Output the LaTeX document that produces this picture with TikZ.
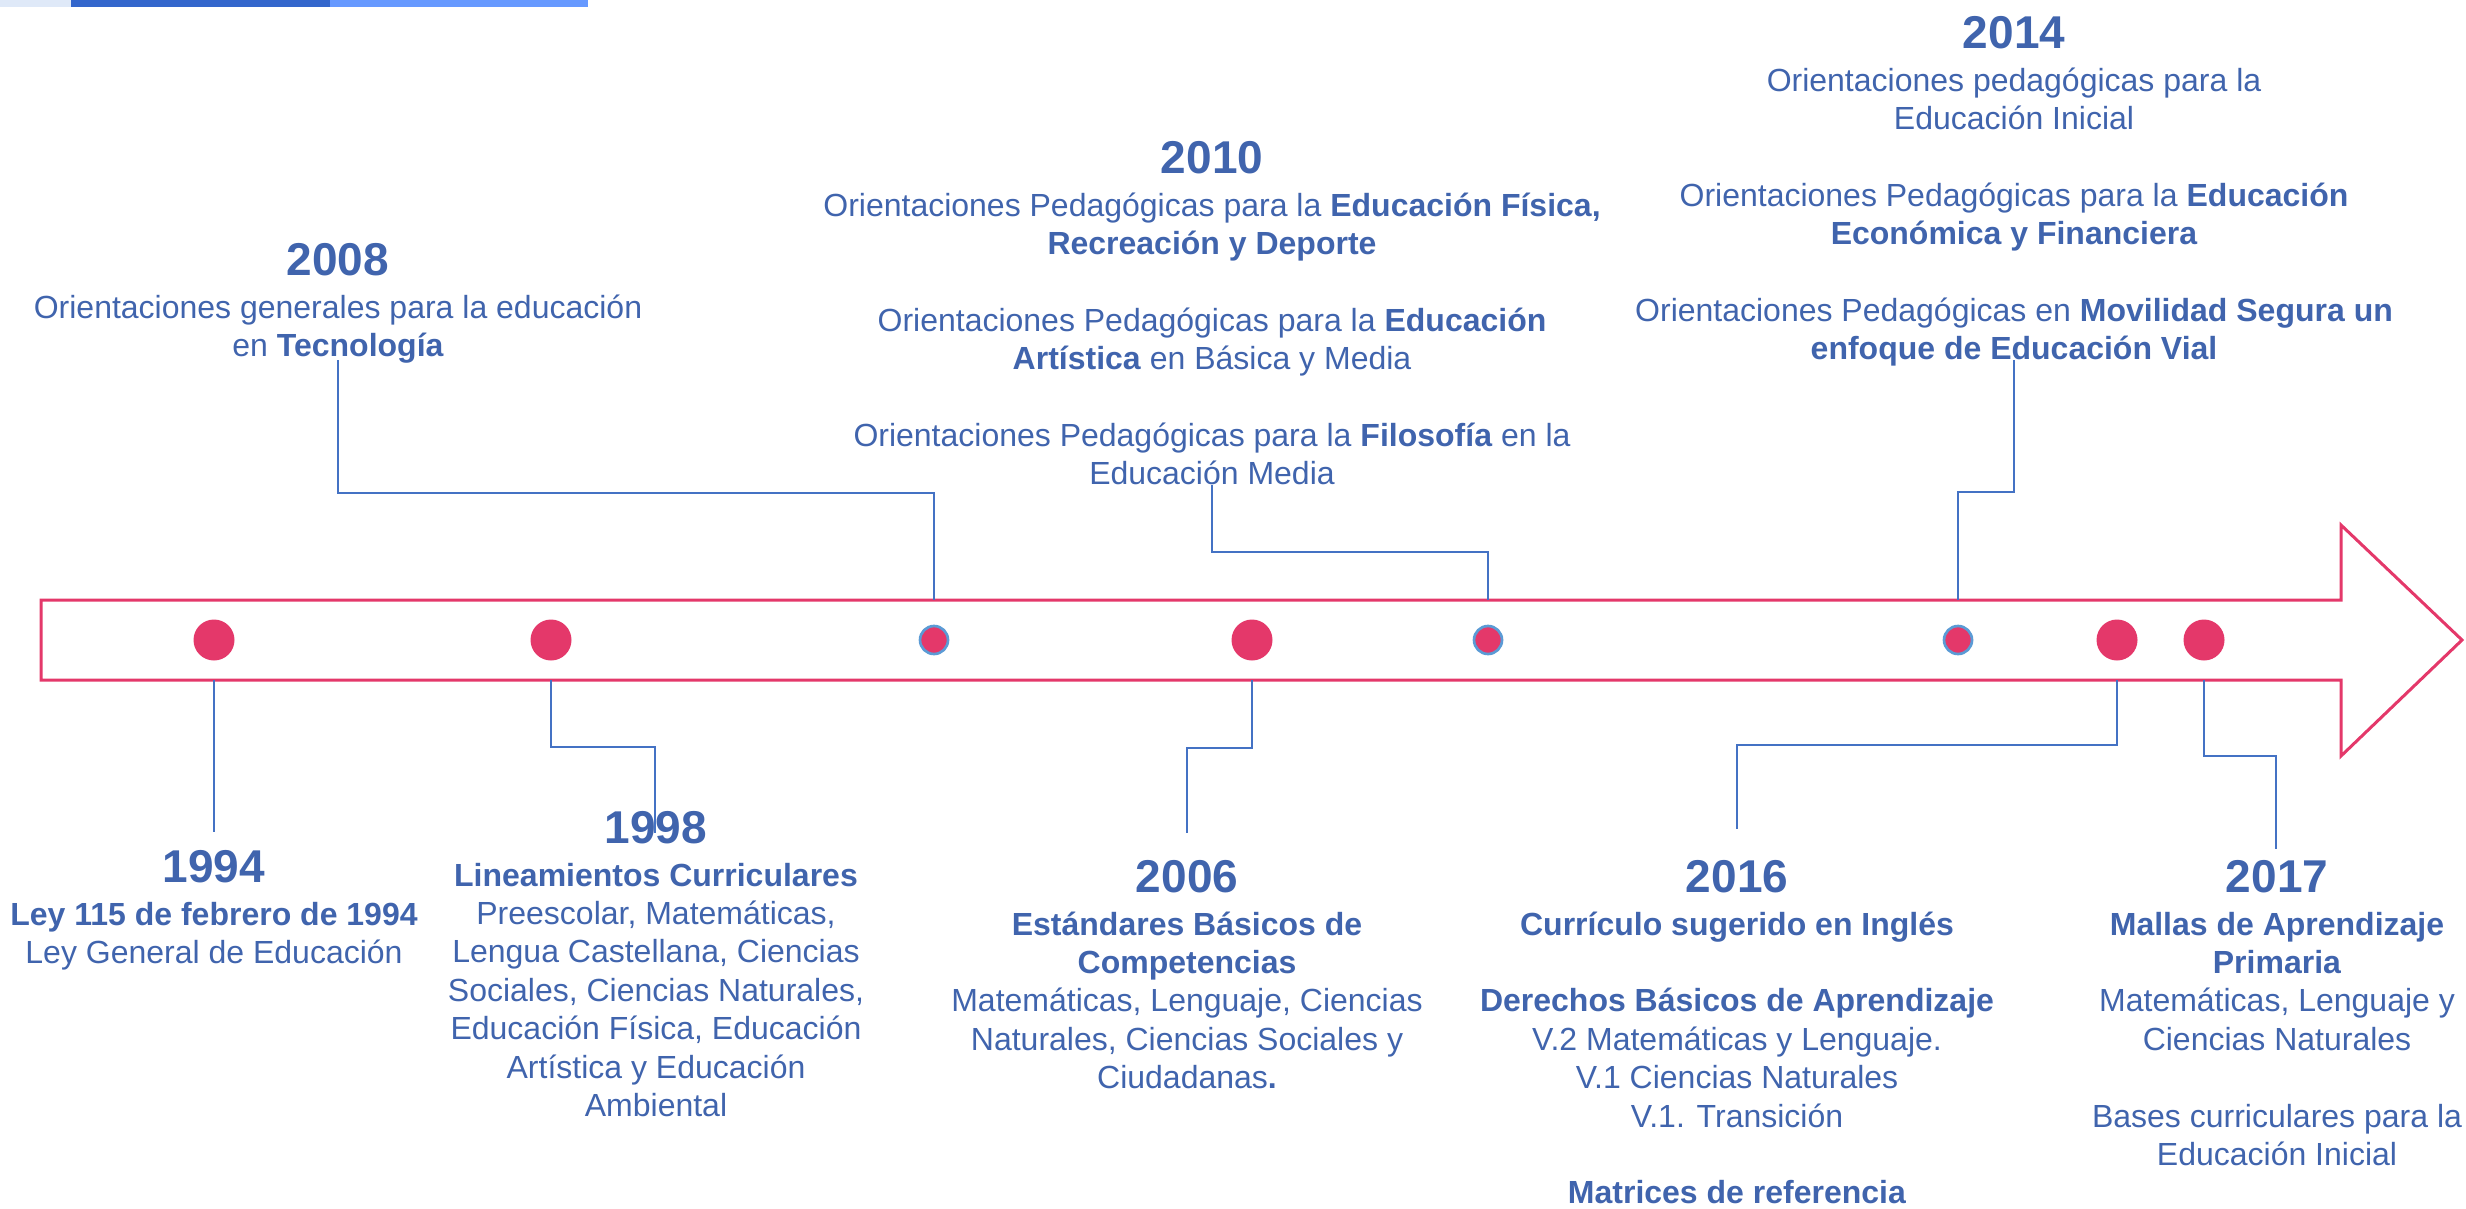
\documentclass[tikz,border=0pt]{standalone}
\usepackage{fontspec}
\setmainfont{Liberation Sans}
\usetikzlibrary{positioning}
\definecolor{tlred}{HTML}{E4386A}
\definecolor{tlblue}{HTML}{4472C4}
\definecolor{tltext}{HTML}{4064AD}
\definecolor{dotring}{HTML}{5B9BD5}
\definecolor{barpale}{HTML}{DFE9F8}
\definecolor{bardark}{HTML}{3366CC}
\definecolor{barlight}{HTML}{6699FF}
\newcommand\lnstrut{\rule{0pt}{9.5pt}}

\begin{document}
\begin{tikzpicture}[x=0.3pt, y=-0.3pt,
    year/.style={font=\fontsize{13.8}{16}\selectfont\bfseries, text=tltext, inner sep=0pt, anchor=base},
    desc/.style={font=\fontsize{9.6}{11.52}\selectfont, text=tltext, align=center, inner sep=0pt},
    bigdot/.style={circle, fill=tlred, inner sep=0pt, minimum size=12.3pt},
    smalldot/.style={circle, fill=tlred, draw=dotring, line width=0.8pt, inner sep=0pt, minimum size=8.4pt},
    conn/.style={draw=tlblue, line width=0.5pt}]
  \useasboundingbox (0,0) rectangle (2466,1208);
  \fill [barpale] (0,0) rectangle (71,7);
  \fill [bardark] (71,0) rectangle (330,7);
  \fill [barlight] (330,0) rectangle (588,7);
  \draw [tlred, line width=0.9pt, line join=miter]
    (41,600) -- (2341,600) -- (2341,525) -- (2462,640) -- (2341,756) -- (2341,680) -- (41,680) -- cycle;
  \coordinate (atop) at (0,600);
  \coordinate (abot) at (0,680);
  \node [bigdot] (d94) at (214,640) {};
  \node [bigdot] (d98) at (551,640) {};
  \node [smalldot] (d08) at (934,640) {};
  \node [bigdot] (d06) at (1252,640) {};
  \node [smalldot] (d10) at (1488,640) {};
  \node [smalldot] (d14) at (1958,640) {};
  \node [bigdot] (d16) at (2117,640) {};
  \node [bigdot] (d17) at (2204,640) {};
  \coordinate (e94) at (214,832);
  \coordinate (e98) at (655,833);
  \coordinate (e08) at (338,360);
  \coordinate (e06) at (1187,833);
  \coordinate (e10) at (1212,485);
  \coordinate (e14) at (2014,360);
  \coordinate (e16) at (1737,829);
  \coordinate (e17) at (2276,849);
  \draw [conn] (d94 |- abot) -- (e94);
  \draw [conn] (d98 |- abot) -- ++(0,67) -| (e98);
  \draw [conn] (d08 |- atop) -- ++(0,-107) -| (e08);
  \draw [conn] (d06 |- abot) -- ++(0,68) -| (e06);
  \draw [conn] (d10 |- atop) -- ++(0,-48) -| (e10);
  \draw [conn] (d14 |- atop) -- ++(0,-108) -| (e14);
  \draw [conn] (d16 |- abot) -- ++(0,65) -| (e16);
  \draw [conn] (d17 |- abot) -- ++(0,76) -| (e17);
  \node [year] (y94) at (214,882) {1994};
  \node [desc, below=3.2pt of y94.base] (t94) {\lnstrut\textbf{Ley 115 de febrero de 1994}\\Ley General de Educación};
  \node [year] (y98) at (656,843) {1998};
  \node [desc, below=3.2pt of y98.base] (t98) {\lnstrut\textbf{Lineamientos Curriculares}\\Preescolar, Matemáticas,\\Lengua Castellana, Ciencias\\Sociales, Ciencias Naturales,\\Educación Física, Educación\\Artística y Educación\\Ambiental};
  \node [year] (y08) at (338,275) {2008};
  \node [desc, below=3.2pt of y08.base] (t08) {\lnstrut Orientaciones generales para la educación\\en \textbf{Tecnología}};
  \node [year] (y06) at (1187,892) {2006};
  \node [desc, below=3.2pt of y06.base] (t06) {\lnstrut\textbf{Estándares Básicos de}\\\textbf{Competencias}\\Matemáticas, Lenguaje, Ciencias\\Naturales, Ciencias Sociales y\\Ciudadanas\textbf{.}};
  \node [year] (y10) at (1212,173) {2010};
  \node [desc, below=3.2pt of y10.base] (t10) {\lnstrut Orientaciones Pedagógicas para la \textbf{Educación Física,}\\\textbf{Recreación y Deporte}\\[11.52pt]Orientaciones Pedagógicas para la \textbf{Educación}\\\textbf{Artística} en Básica y Media\\[11.52pt]Orientaciones Pedagógicas para la \textbf{Filosofía} en la\\Educación Media};
  \node [year] (y14) at (2014,48) {2014};
  \node [desc, below=3.2pt of y14.base] (t14) {\lnstrut Orientaciones pedagógicas para la\\Educación Inicial\\[11.52pt]Orientaciones Pedagógicas para la \textbf{Educación}\\\textbf{Económica y Financiera}\\[11.52pt]Orientaciones Pedagógicas en \textbf{Movilidad Segura un}\\\textbf{enfoque de Educación Vial}};
  \node [year] (y16) at (1737,892) {2016};
  \node [desc, below=3.2pt of y16.base] (t16) {\lnstrut\textbf{Currículo sugerido en Inglés}\\[11.52pt]\textbf{Derechos Básicos de Aprendizaje}\\V.2 Matemáticas y Lenguaje.\\V.1 Ciencias Naturales\\V.1. Transición\\[11.52pt]\textbf{Matrices de referencia}};
  \node [year] (y17) at (2277,892) {2017};
  \node [desc, below=3.2pt of y17.base] (t17) {\lnstrut\textbf{Mallas de Aprendizaje}\\\textbf{Primaria}\\Matemáticas, Lenguaje y\\Ciencias Naturales\\[11.52pt]Bases curriculares para la\\Educación Inicial};
\end{tikzpicture}
\end{document}
